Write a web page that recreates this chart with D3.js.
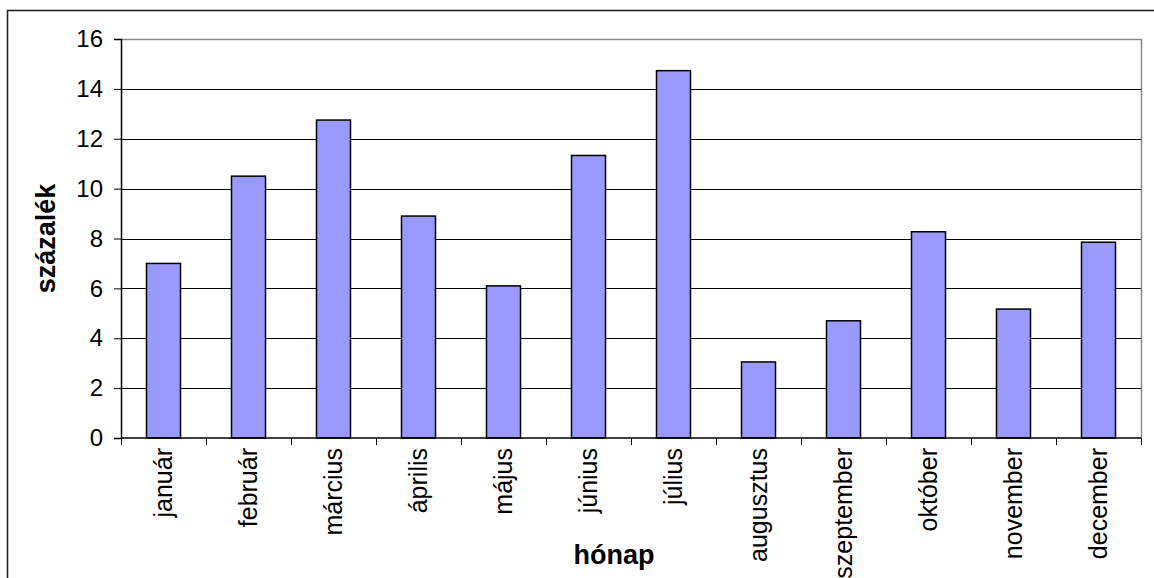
<!DOCTYPE html>
<html>
<head>
<meta charset="utf-8">
<script src="https://cdn.jsdelivr.net/npm/d3@7"></script>
<style>
  html, body { margin: 0; padding: 0; background: #fff; }
  svg { display: block; }
  text { font-family: "Liberation Sans", Arial, sans-serif; fill: #000; }
</style>
</head>
<body>
<svg id="chart" width="1154" height="578"></svg>
<script>
// Monthly share, in percent
const months = ["január", "február", "március", "április", "május", "június",
                "július", "augusztus", "szeptember", "október", "november", "december"];
const percents = [7.0, 10.5, 12.75, 8.9, 6.1, 11.33, 14.73, 3.05, 4.7, 8.27, 5.17, 7.85];
const yTicks = [0, 2, 4, 6, 8, 10, 12, 14, 16];
const yTitle = "százalék";
const xTitle = "hónap";

const svg = d3.select("#chart");
const W = 1154, H = 578;
const plot = { left: 121, top: 39, right: 1141, bottom: 438 };

// outer chart frame (runs past the right and bottom edges of the view)
svg.append("rect")
  .attr("x", 7.5).attr("y", 10.5)
  .attr("width", W + 20).attr("height", H + 20)
  .attr("fill", "none").attr("stroke", "#222").attr("stroke-width", 1.6);

const x = d3.scaleBand().domain(months).range([plot.left, plot.right]).paddingInner(0).paddingOuter(0);
const y = d3.scaleLinear().domain([0, 16]).range([plot.bottom, plot.top]);

// horizontal gridlines
svg.append("g")
  .selectAll("line")
  .data(yTicks.filter(t => t > 0 && t < 16))
  .join("line")
  .attr("x1", plot.left).attr("x2", plot.right)
  .attr("y1", d => Math.round(y(d)) + 0.5).attr("y2", d => Math.round(y(d)) + 0.5)
  .attr("stroke", "#000").attr("stroke-width", 1);

// plot area border: grey top and right edges
svg.append("path")
  .attr("d", `M${plot.left},${y(16) + 0.5}H${plot.right + 0.5}V${plot.bottom}`)
  .attr("fill", "none").attr("stroke", "#888").attr("stroke-width", 1.5);

// bars
const barW = x.bandwidth() / 2.5;
svg.append("g")
  .selectAll("rect")
  .data(months.map((m, i) => ({ m, v: percents[i] })))
  .join("rect")
  .attr("x", d => x(d.m) + (x.bandwidth() - barW) / 2)
  .attr("y", d => y(d.v))
  .attr("width", barW)
  .attr("height", d => y(0) - y(d.v))
  .attr("fill", "#9999ff")
  .attr("stroke", "#000").attr("stroke-width", 1.5);

// y axis
const yAxis = svg.append("g")
  .attr("transform", `translate(${plot.left},0)`)
  .call(d3.axisLeft(y).tickValues(yTicks).tickSize(7).tickPadding(11).tickFormat(d3.format("d")));
yAxis.select(".domain").attr("stroke", "#000").attr("stroke-width", 1.5);
yAxis.selectAll(".tick line").attr("stroke", "#000");
yAxis.selectAll(".tick text").attr("font-size", 24).attr("fill", "#000")
  .attr("font-family", "'Liberation Sans', Arial, sans-serif");

// x axis: baseline with ticks between categories
svg.append("line")
  .attr("x1", plot.left).attr("x2", plot.right)
  .attr("y1", plot.bottom).attr("y2", plot.bottom)
  .attr("stroke", "#000").attr("stroke-width", 1.5);
const bounds = months.map(m => x(m)).concat([x(months[months.length - 1]) + x.bandwidth()]);
svg.append("g")
  .selectAll("line")
  .data(bounds)
  .join("line")
  .attr("x1", d => Math.round(d) + 0.5).attr("x2", d => Math.round(d) + 0.5)
  .attr("y1", plot.bottom).attr("y2", plot.bottom + 7)
  .attr("stroke", "#000").attr("stroke-width", 1);

// rotated month labels
svg.append("g")
  .selectAll("text")
  .data(months)
  .join("text")
  .attr("transform", d => `translate(${x(d) + x.bandwidth() / 2 + 8},${plot.bottom + 10}) rotate(-90)`)
  .attr("text-anchor", "end")
  .attr("font-size", 25)
  .text(d => d);

// axis titles
svg.append("text")
  .attr("transform", `translate(55,${(plot.top + plot.bottom) / 2}) rotate(-90)`)
  .attr("text-anchor", "middle")
  .attr("font-size", 27).attr("font-weight", "bold")
  .text(yTitle);

svg.append("text")
  .attr("x", 614).attr("y", 564)
  .attr("text-anchor", "middle")
  .attr("font-size", 27).attr("font-weight", "bold")
  .text(xTitle);
</script>
</body>
</html>
